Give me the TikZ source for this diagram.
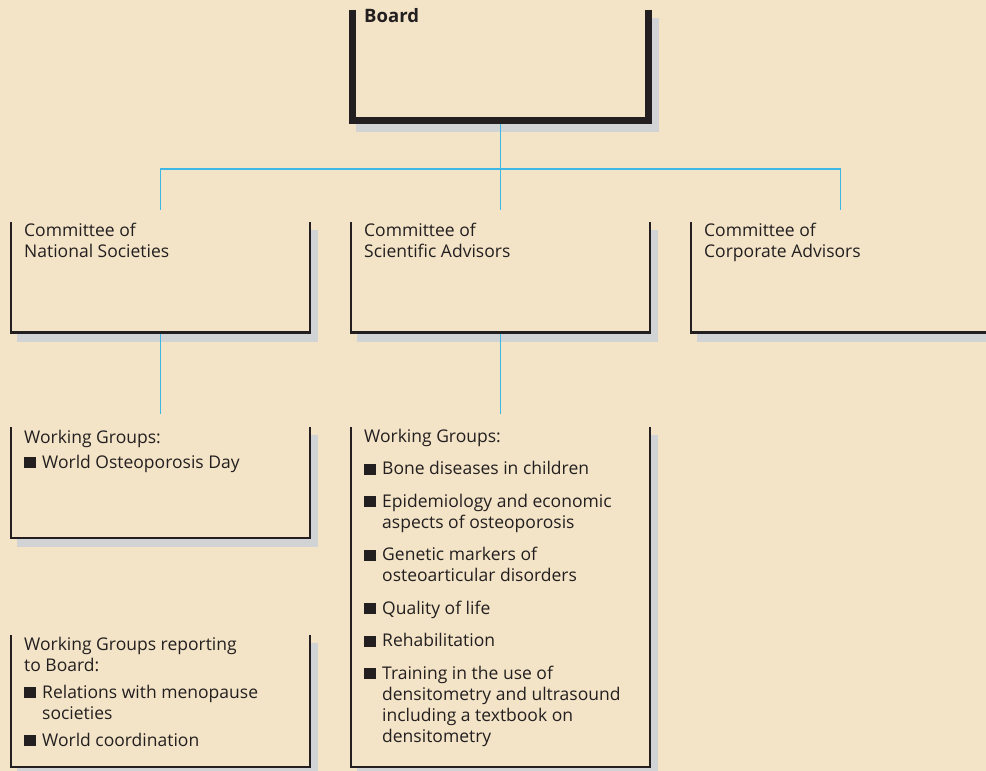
\documentclass[tikz,border=0pt]{standalone}
\usepackage{fontspec}
\setmainfont{Open Sans}
\usetikzlibrary{calc}
\definecolor{bg}{HTML}{F3E4C7}
\definecolor{shd}{HTML}{D1D3D4}
\definecolor{ink}{HTML}{231F20}
\definecolor{lnk}{HTML}{3DB7E6}
\newcommand\bsq{\textcolor{ink}{\rule{11.5pt}{11pt}}\hspace{6.5pt}}
\newcommand\ind{\hspace*{18pt}}
% name, x, y, w, h, line width (numbers, in px); x,y,w,h give the centre line of the frame
\newcommand\mkbox[6]{%
  \fill[shd] ({#2-#6/2+7},{#3+8}) rectangle ({#2+#4+#6/2+7},{#3+#5+#6/2+8});
  \node[box, minimum width=#4pt, minimum height=#5pt] (#1) at (#2,#3) {};
  \draw[draw=ink, line width=#6pt, line join=miter]
    (#1.north west) |- (#1.south east) -- (#1.north east);
}
\begin{document}
\begin{tikzpicture}[x=1pt,y=-1pt,
  box/.style={draw=none, fill=bg, inner sep=0pt, outer sep=0pt, anchor=north west},
  link/.style={draw=lnk, line width=1.7pt},
  lbl/.style={anchor=base west, inner sep=0pt, text=ink, font=\fontsize{17.5}{21}\selectfont}]
\useasboundingbox[fill=bg] (0,0) rectangle (986,771);
\clip (0,0) rectangle (986,771);

\mkbox{board}{352.5}{10}{296}{110}{7}
\mkbox{ns}{11}{222}{299}{110.5}{2.4}
\mkbox{sa}{351}{222}{299}{110.5}{2.4}
\mkbox{ca}{691}{222}{299}{110.5}{2.4}
\mkbox{wgns}{11}{427}{299}{111}{2.4}
\mkbox{wgsa}{351}{427}{299}{340}{2.4}
\mkbox{wgrep}{11}{635}{299}{132}{2.4}

% connectors
\draw[link] ($(board.south)+(0,3.5)$) -- ($(sa.north)+(0,-12)$);
\draw[link] ($(ns.north)+(0,-12)$) |- ($(board.south)+(0,49)$) -| ($(ca.north)+(0,-12)$);
\draw[link] ($(ns.south)+(0,1.2)$) -- ($(wgns.north)+(0,-13)$);
\draw[link] ($(sa.south)+(0,1.2)$) -- ($(wgsa.north)+(0,-13)$);

% texts
\node[lbl, font=\fontsize{18.5}{21}\selectfont\bfseries] (tboard) at (364,23) {Board};
\node[lbl] (tns) at (24,236) {\begin{tabular}[t]{@{}l@{}}Committee of\\ National Societies\end{tabular}};
\node[lbl] (tsa) at (364,236) {\begin{tabular}[t]{@{}l@{}}Committee of\\ Scientific Advisors\end{tabular}};
\node[lbl] (tca) at (704,236) {\begin{tabular}[t]{@{}l@{}}Committee of\\ Corporate Advisors\end{tabular}};
\node[lbl] (twgns) at (24,443) {\begin{tabular}[t]{@{}l@{}}Working Groups:\\[4pt] \bsq World Osteoporosis Day\end{tabular}};
\node[lbl] (twgsa) at (364,442) {\begin{tabular}[t]{@{}l@{}}Working Groups:\\[11.5pt]
  \bsq Bone diseases in children\\[11.5pt]
  \bsq Epidemiology and economic\\ \ind aspects of osteoporosis\\[11.5pt]
  \bsq Genetic markers of\\ \ind osteoarticular disorders\\[11.5pt]
  \bsq Quality of life\\[11.5pt]
  \bsq Rehabilitation\\[11.5pt]
  \bsq Training in the use of\\ \ind densitometry and ultrasound\\ \ind including a textbook on\\ \ind densitometry\end{tabular}};
\node[lbl] (twgrep) at (24,650) {\begin{tabular}[t]{@{}l@{}}Working Groups reporting\\ to Board:\\[6pt]
  \bsq Relations with menopause\\ \ind societies\\[6pt]
  \bsq World coordination\end{tabular}};
\end{tikzpicture}
\end{document}
